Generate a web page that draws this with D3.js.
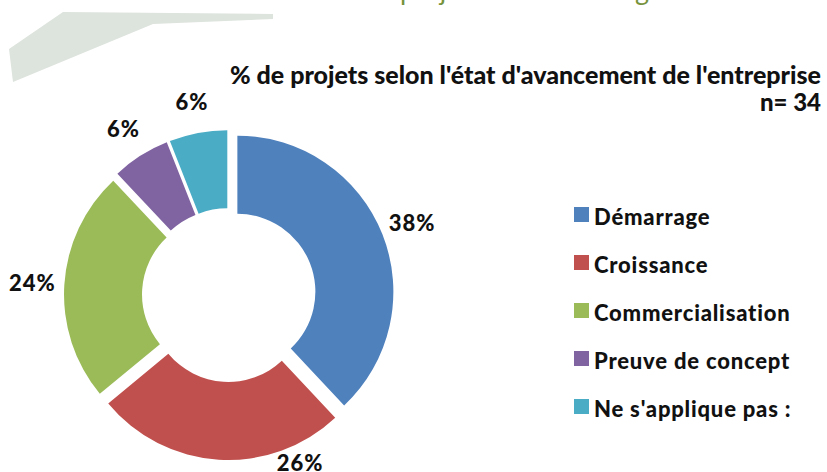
<!DOCTYPE html>
<html><head><meta charset="utf-8">
<script src="https://cdn.jsdelivr.net/npm/d3@7"></script>
<style>
html,body{margin:0;padding:0;background:#fff;}
svg{display:block;}
text{font-family:Lato,"Open Sans",sans-serif;}
</style></head>
<body>
<svg id="chart" width="827" height="472"></svg>
<script>
const categories = ["Démarrage","Croissance","Commercialisation","Preuve de concept","Ne s'applique pas :"];
const values = [38, 26, 24, 6, 6];
const valueLabels = ["38%","26%","24%","6%","6%"];
const colors = ["#4f81bd","#c0504d","#9bbb59","#8064a2","#4bacc6"];
const titleText = "% de projets selon l'état d'avancement de l'entreprise";
const subtitleText = "n= 34";
const headerText = "Les projets selon la catégorie";

const svg = d3.select("#chart");

// decorative grey shape
svg.append("polygon")
  .attr("points", [[63,12],[273,14],[273,19],[153,24],[13,82],[9,49]].map(p=>p.join(",")).join(" "))
  .attr("fill", "#dde3dd");

// cut-off green header (only descenders visible)
const hdr = svg.append("text")
  .attr("y", 0)
  .attr("font-size", 27)
  .attr("font-weight", 400)
  .attr("fill", "#77933c")
  .text(headerText);
const pIdx = headerText.indexOf("projets");
const pOff = hdr.node().getSubStringLength(0, pIdx);
hdr.attr("x", 400 - pOff);

// titles
svg.append("text")
  .attr("x", 821).attr("y", 84)
  .attr("text-anchor", "end")
  .attr("font-size", 25).attr("font-weight", 900)
  .attr("fill", "#111")
  .text(titleText);
svg.append("text")
  .attr("x", 821).attr("y", 111)
  .attr("text-anchor", "end")
  .attr("font-size", 24).attr("font-weight", 900)
  .attr("fill", "#111")
  .text(subtitleText);

// donut
const cx = 229, cy = 295, R = 156, r = 78, explode = 9;
const pie = d3.pie().sort(null).value(d => d)(values);
const arc = d3.arc().innerRadius(r).outerRadius(R);
const g = svg.append("g").attr("transform", `translate(${cx},${cy})`);

g.selectAll("path.slice").data(pie).join("path")
  .attr("class", "slice")
  .attr("d", arc)
  .attr("fill", (d,i) => colors[i])
  .attr("transform", d => {
    const m = (d.startAngle + d.endAngle) / 2;
    return `translate(${Math.sin(m)*explode},${-Math.cos(m)*explode})`;
  });

// labels
const labelR = 197;
const labelAdjust = {1: {angle: 157 * Math.PI / 180, radius: 182}};
g.selectAll("text.lbl").data(pie).join("text")
  .attr("class", "lbl")
  .attr("text-anchor", "middle")
  .attr("dominant-baseline", "central")
  .attr("font-size", 22).attr("font-weight", 900)
  .attr("letter-spacing", 1)
  .attr("fill", "#111")
  .each(function(d, i) {
    let m = (d.startAngle + d.endAngle) / 2, rr = labelR;
    if (labelAdjust[i]) { m = labelAdjust[i].angle; rr = labelAdjust[i].radius; }
    d3.select(this).attr("x", Math.sin(m) * rr).attr("y", -Math.cos(m) * rr);
  })
  .text((d,i) => valueLabels[i]);

// legend
const legY = d3.scalePoint().domain(categories).range([215, 407]);
const leg = svg.append("g");
leg.selectAll("rect").data(categories).join("rect")
  .attr("x", 574).attr("y", d => legY(d) - 8)
  .attr("width", 15).attr("height", 15)
  .attr("fill", (d,i) => colors[i]);
leg.selectAll("text").data(categories).join("text")
  .attr("x", 594).attr("y", d => legY(d) + 1)
  .attr("dominant-baseline", "central")
  .attr("font-size", 22).attr("font-weight", 900)
  .attr("letter-spacing", 0.8)
  .attr("fill", "#111")
  .text(d => d);
</script>
</body></html>
